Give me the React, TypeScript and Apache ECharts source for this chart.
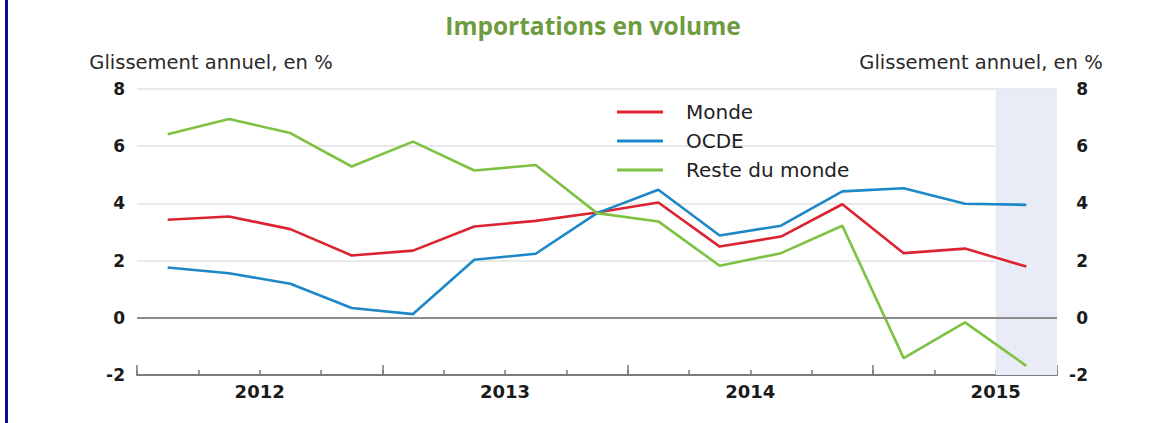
import React, { useEffect, useRef } from 'react';
import * as echarts from 'echarts';

const quarters = [
  '2012T1', '2012T2', '2012T3', '2012T4',
  '2013T1', '2013T2', '2013T3', '2013T4',
  '2014T1', '2014T2', '2014T3', '2014T4',
  '2015T1', '2015T2', '2015T3',
];
const years = ['2012', '2013', '2014', '2015'];
const monde = [3.43, 3.54, 3.1, 2.18, 2.35, 3.19, 3.39, 3.68, 4.03, 2.49, 2.84, 3.97, 2.26, 2.42, 1.79];
const ocde = [1.76, 1.56, 1.19, 0.34, 0.13, 2.03, 2.24, 3.66, 4.48, 2.88, 3.22, 4.42, 4.53, 3.99, 3.95];
const reste = [6.42, 6.95, 6.46, 5.29, 6.16, 5.15, 5.34, 3.66, 3.37, 1.82, 2.26, 3.22, -1.41, -0.16, -1.68];
const seriesNames = ['Monde', 'OCDE', 'Reste du monde'];
const yMin = -2;
const yMax = 8;
const yStep = 2;
const shadedQuarter = '2015T3';
const titleText = 'Importations en volume';
const axisTitle = 'Glissement annuel, en %';

const FONT = 'DejaVu Sans';

export default function App() {
  const ref = useRef<HTMLDivElement>(null);

  useEffect(() => {
    document.body.style.margin = '0';
    if (!ref.current) return;
    const chart = echarts.init(ref.current, null, { renderer: 'svg' });
    const n = quarters.length;
    const shadeStart = quarters.indexOf(shadedQuarter);

    const yLabel = {
      fontFamily: FONT,
      fontWeight: 'bold' as const,
      fontSize: 17,
      color: '#1a1a1a',
    };

    chart.setOption({
      animation: false,
      backgroundColor: '#ffffff',
      grid: { left: 137, right: 114, top: 89, bottom: 48, containLabel: false },
      legend: {
        orient: 'vertical',
        left: 612,
        top: 97,
        icon: 'rect',
        itemWidth: 46,
        itemHeight: 3,
        itemGap: 9,
        textStyle: { fontFamily: FONT, fontSize: 20, color: '#222', lineHeight: 20, padding: [0, 0, 0, 18] },
        data: seriesNames,
      },
      xAxis: [
        {
          type: 'category',
          data: quarters,
          boundaryGap: true,
          axisLine: { show: true, onZero: false, lineStyle: { color: '#7a7a7a', width: 2 } },
          axisTick: { show: true, inside: true, length: 5, interval: 0, lineStyle: { color: '#7a7a7a', width: 1.5 } },
          axisLabel: { show: false },
          splitLine: { show: false },
        },
        {
          type: 'value',
          min: 0,
          max: n,
          interval: 4,
          position: 'bottom',
          axisLine: { show: false, onZero: false },
          axisTick: { show: true, inside: true, length: 10, lineStyle: { color: '#7a7a7a', width: 1.5 } },
          axisLabel: { show: false },
          splitLine: { show: false },
        },
        {
          type: 'value',
          min: 0,
          max: n,
          interval: 2,
          position: 'bottom',
          axisLine: { show: false, onZero: false },
          axisTick: { show: false },
          splitLine: { show: false },
          axisLabel: {
            show: true,
            margin: 7,
            fontFamily: FONT,
            fontWeight: 'bold',
            fontSize: 18,
            color: '#1a1a1a',
            showMinLabel: true,
            showMaxLabel: true,
            formatter: (v: number) => (v % 4 === 2 ? years[(v - 2) / 4] : ''),
          },
        },
      ],
      yAxis: [
        {
          type: 'value',
          min: yMin,
          max: yMax,
          interval: yStep,
          position: 'left',
          axisLine: { show: false },
          axisTick: { show: false },
          axisLabel: { ...yLabel, margin: 12 },
          splitLine: { show: true, lineStyle: { color: '#e2e2e2', width: 1.5 } },
        },
        {
          type: 'value',
          min: yMin,
          max: yMax,
          interval: yStep,
          position: 'right',
          axisLine: { show: false },
          axisTick: { show: false },
          axisLabel: { ...yLabel, margin: 31, align: 'right' },
          splitLine: { show: false },
        },
      ],
      graphic: [
        { type: 'rect', shape: { x: 5, y: 0, width: 3, height: 423 }, style: { fill: '#0b0b9b' }, z: 100 },
        {
          type: 'text',
          x: 593,
          y: 25,
          style: {
            text: titleText,
            fontFamily: 'Open Sans',
            fontWeight: 'bold',
            fontSize: 24.5,
            fill: '#6e9b3f',
            textAlign: 'center',
            textVerticalAlign: 'middle',
          },
        },
        {
          type: 'text',
          x: 211,
          y: 62,
          style: { text: axisTitle, fontFamily: FONT, fontSize: 19.5, fill: '#2a2a2a', textAlign: 'center', textVerticalAlign: 'middle' },
        },
        {
          type: 'text',
          x: 981,
          y: 62,
          style: { text: axisTitle, fontFamily: FONT, fontSize: 19.5, fill: '#2a2a2a', textAlign: 'center', textVerticalAlign: 'middle' },
        },
      ],
      series: [
        {
          type: 'line',
          name: 'shade',
          xAxisIndex: 1,
          yAxisIndex: 0,
          data: [],
          silent: true,
          z: 0,
          markArea: {
            silent: true,
            itemStyle: { color: '#e9ecf6' },
            data: [[{ xAxis: shadeStart }, { xAxis: shadeStart + 1 }]],
          },
          markLine: {
            silent: true,
            symbol: 'none',
            label: { show: false },
            lineStyle: { color: '#8c8c8c', width: 2, type: 'solid' },
            data: [{ yAxis: 0 }],
          },
        },
        {
          type: 'line',
          name: seriesNames[0],
          data: monde,
          color: '#dc2430',
          symbol: 'none',
          lineStyle: { width: 2.6, color: '#dc2430' },
          z: 3,
        },
        {
          type: 'line',
          name: seriesNames[1],
          data: ocde,
          color: '#1d87c8',
          symbol: 'none',
          lineStyle: { width: 2.6, color: '#1d87c8' },
          z: 3,
        },
        {
          type: 'line',
          name: seriesNames[2],
          data: reste,
          color: '#7dc242',
          symbol: 'none',
          lineStyle: { width: 2.6, color: '#7dc242' },
          z: 3,
        },
      ],
    });

    return () => chart.dispose();
  }, []);

  return <div ref={ref} style={{ width: 1171, height: 423 }} />;
}
